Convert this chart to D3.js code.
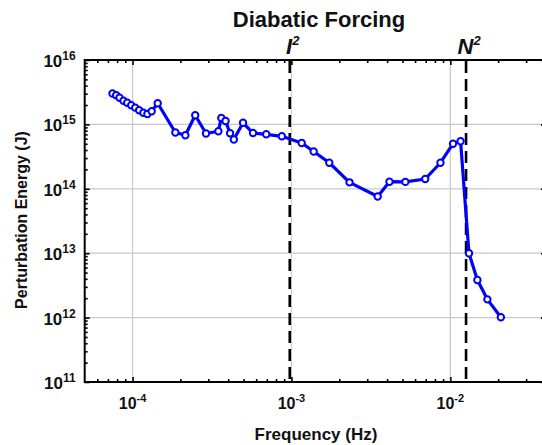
<!DOCTYPE html>
<html>
<head>
<meta charset="utf-8">
<script src="https://cdn.jsdelivr.net/npm/d3@7"></script>
<style>
  body { margin: 0; background: #fff; }
  text { font-family: "Liberation Sans", Arial, sans-serif; font-weight: bold; fill: #111; }
</style>
</head>
<body>
<svg width="542" height="445"></svg>
<script>
// data (Hz, J)
var freq = [7.48e-5, 7.89e-5, 8.28e-5, 8.77e-5, 9.26e-5, 9.81e-5, 1.04e-4, 1.10e-4, 1.17e-4, 1.24e-4,
            1.32e-4, 1.44e-4, 1.86e-4, 2.15e-4, 2.48e-4, 2.90e-4, 3.47e-4, 3.62e-4, 3.85e-4, 4.11e-4,
            4.34e-4, 4.96e-4, 5.73e-4, 6.94e-4, 8.70e-4, 1.16e-3, 1.38e-3, 1.73e-3, 2.32e-3, 3.49e-3,
            4.14e-3, 5.21e-3, 6.95e-3, 8.67e-3, 1.04e-2, 1.16e-2, 1.31e-2, 1.48e-2, 1.71e-2, 2.08e-2];
var energy = [3.02e15, 2.83e15, 2.60e15, 2.33e15, 2.17e15, 1.98e15, 1.82e15, 1.66e15, 1.52e15, 1.45e15,
              1.60e15, 2.13e15, 7.48e14, 6.78e14, 1.39e15, 7.23e14, 7.82e14, 1.26e15, 1.13e15, 7.28e14,
              5.83e14, 1.06e15, 7.35e14, 7.02e14, 6.53e14, 5.14e14, 3.79e14, 2.54e14, 1.26e14, 7.59e13,
              1.29e14, 1.28e14, 1.42e14, 2.54e14, 5.01e14, 5.48e14, 9.96e12, 3.84e12, 1.92e12, 1.01e12];

var xTickExp = [-4, -3, -2];
var yTickExp = [11, 12, 13, 14, 15, 16];
var refFreq = [9.76e-4, 1.256e-2];
var refName = ["I", "N"];

var svg = d3.select("svg"),
    margin = {top: 60, left: 84.7},
    cWidth = 461.3,
    cHeight = 322;

var g = svg.append("g").attr("transform", "translate(" + margin.left + "," + margin.top + ")");

var x = d3.scaleLog().domain([5e-5, 4e-2]).range([0, cWidth]);
var y = d3.scaleLog().domain([1e11, 1e16]).range([cHeight, 0]);

// minor ticks 2..9 in each decade
function minors(dom) {
  var out = [];
  for (var e = -6; e <= 17; e++) {
    for (var k = 2; k <= 9; k++) {
      var v = k * Math.pow(10, e);
      if (v > dom[0] * 1.0001 && v < dom[1] * 0.9999) out.push(v);
    }
  }
  return out;
}
var xMajor = xTickExp.map(function(e) { return Math.pow(10, e); });
var yMajor = yTickExp.map(function(e) { return Math.pow(10, e); });

// grid
g.append("g").selectAll("line").data(xMajor).enter().append("line")
    .attr("x1", function(d) { return x(d); }).attr("x2", function(d) { return x(d); })
    .attr("y1", 0).attr("y2", cHeight)
    .attr("stroke", "#c8c8c8").attr("stroke-width", 1.2);
g.append("g").selectAll("line").data(yMajor).enter().append("line")
    .attr("x1", 0).attr("x2", cWidth)
    .attr("y1", function(d) { return y(d); }).attr("y2", function(d) { return y(d); })
    .attr("stroke", "#c8c8c8").attr("stroke-width", 1.2);

// axes with inward ticks
function tickAxis(axis, vals, size, tr) {
  var a = g.append("g").attr("transform", tr)
    .call(axis.tickValues(vals).tickSize(size).tickFormat(""));
  a.select(".domain").remove();
  a.selectAll("line").attr("stroke", "#000").attr("stroke-width", 1.6);
}
tickAxis(d3.axisBottom(x), xMajor, -5, "translate(0," + cHeight + ")");
tickAxis(d3.axisBottom(x), minors(x.domain()), -3, "translate(0," + cHeight + ")");
tickAxis(d3.axisTop(x), xMajor, -5, "translate(0,0)");
tickAxis(d3.axisTop(x), minors(x.domain()), -3, "translate(0,0)");
tickAxis(d3.axisLeft(y), yMajor, -5, "translate(0,0)");
tickAxis(d3.axisLeft(y), minors(y.domain()), -3, "translate(0,0)");
tickAxis(d3.axisRight(y), yMajor, -5, "translate(" + cWidth + ",0)");
tickAxis(d3.axisRight(y), minors(y.domain()), -3, "translate(" + cWidth + ",0)");

g.append("rect")
    .attr("width", cWidth).attr("height", cHeight)
    .attr("fill", "none").attr("stroke", "#000").attr("stroke-width", 2);

// tick labels
var xl = g.append("g").selectAll("text").data(xTickExp).enter().append("text")
    .attr("x", function(d) { return x(Math.pow(10, d)); })
    .attr("y", cHeight + 27)
    .attr("text-anchor", "middle")
    .style("font-size", "16px");
xl.append("tspan").text("10");
xl.append("tspan").attr("dy", -7).style("font-size", "11px").text(function(d) { return d; });

var yl = g.append("g").selectAll("text").data(yTickExp).enter().append("text")
    .attr("x", -9)
    .attr("y", function(d) { return y(Math.pow(10, d)) + 7; })
    .attr("text-anchor", "end")
    .style("font-size", "17px");
yl.append("tspan").text("10");
yl.append("tspan").attr("dy", -7).style("font-size", "12px").text(function(d) { return d; });

// reference lines
g.append("g").selectAll("line").data(refFreq).enter().append("line")
    .attr("x1", function(d) { return x(d); }).attr("x2", function(d) { return x(d); })
    .attr("y1", 1).attr("y2", cHeight)
    .attr("stroke", "#000").attr("stroke-width", 2.6)
    .attr("stroke-dasharray", "12,6");

var rl = g.append("g").selectAll("text").data(refFreq).enter().append("text")
    .attr("x", function(d) { return x(d) + 3; })
    .attr("y", -6)
    .attr("text-anchor", "middle")
    .style("font-size", "22px").style("font-style", "italic");
rl.append("tspan").text(function(d, i) { return refName[i]; });
rl.append("tspan").attr("dy", -9).style("font-size", "13px").text("2");

// series
var pts = freq.map(function(f, i) { return [f, energy[i]]; });
g.append("path")
    .datum(pts)
    .attr("fill", "none")
    .attr("stroke", "#0000ff")
    .attr("stroke-width", 3.2)
    .attr("stroke-linejoin", "round")
    .attr("d", d3.line().x(function(d) { return x(d[0]); }).y(function(d) { return y(d[1]); }));
g.append("g").selectAll("circle").data(pts).enter().append("circle")
    .attr("cx", function(d) { return x(d[0]); })
    .attr("cy", function(d) { return y(d[1]); })
    .attr("r", 3.2)
    .attr("fill", "#fff")
    .attr("stroke", "#0000ff")
    .attr("stroke-width", 2);

// titles
svg.append("text")
    .attr("x", 319).attr("y", 27)
    .attr("text-anchor", "middle")
    .style("font-size", "22px")
    .text("Diabatic Forcing");
svg.append("text")
    .attr("x", 316).attr("y", 440)
    .attr("text-anchor", "middle")
    .style("font-size", "17px")
    .text("Frequency (Hz)");
svg.append("text")
    .attr("transform", "translate(27,220) rotate(-90)")
    .attr("text-anchor", "middle")
    .style("font-size", "16px")
    .text("Perturbation Energy (J)");
</script>
</body>
</html>
